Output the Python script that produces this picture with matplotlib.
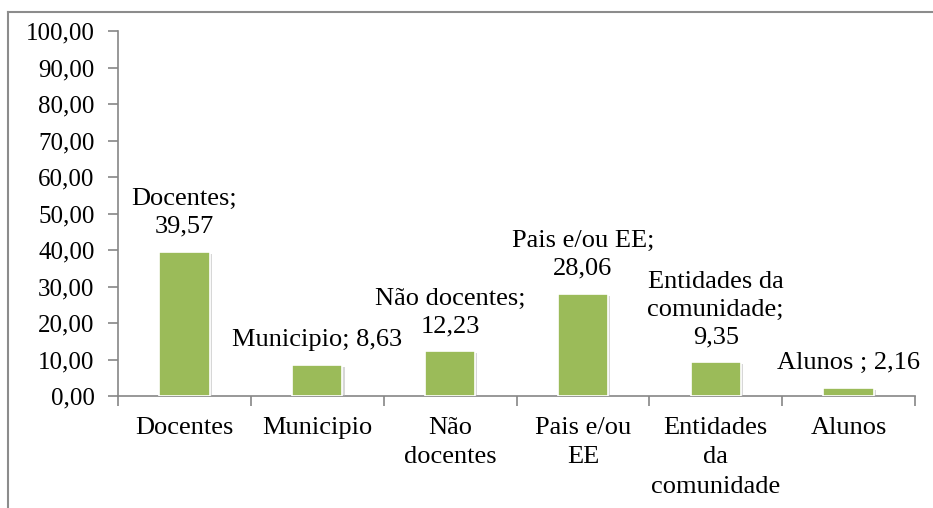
import matplotlib
matplotlib.use("Agg")
import matplotlib.pyplot as plt
from matplotlib.ticker import FuncFormatter, MultipleLocator, FixedLocator
from matplotlib.lines import Line2D
import matplotlib.patheffects as pe

categories = ["Docentes", "Municipio", "Não docentes", "Pais e/ou EE",
              "Entidades da comunidade", "Alunos"]
tick_labels = ["Docentes", "Municipio", "Não\ndocentes", "Pais e/ou\nEE",
               "Entidades\nda\ncomunidade", "Alunos"]
values = [39.57, 8.63, 12.23, 28.06, 9.35, 2.16]
data_labels = ["Docentes;\n39,57", "Municipio; 8,63", "Não docentes;\n12,23",
               "Pais e/ou EE;\n28,06", "Entidades da\ncomunidade;\n9,35",
               "Alunos ; 2,16"]

plt.rcParams['font.family'] = ['Liberation Serif', 'DejaVu Serif']
FS = 19
FS_Y = 18

fig = plt.figure(figsize=(9.33, 5.08), dpi=100)
ax = fig.add_axes([118/933, 1-396/508, (915-118)/933, (396-31)/508])

x = list(range(len(categories)))
bars = ax.bar(x, values, width=0.38, color="#9BBB59", edgecolor="white",
              linewidth=1.2, zorder=3)
for b in bars:
    b.set_path_effects([pe.SimplePatchShadow(offset=(1.5, -1.5), shadow_rgbFace="#b0b0b0", alpha=0.5),
                        pe.Normal()])

ax.set_xlim(-0.5, len(categories) - 0.5)
ax.set_ylim(0, 100)
ax.yaxis.set_major_locator(MultipleLocator(10))
ax.yaxis.set_major_formatter(FuncFormatter(lambda v, p: f"{v:.2f}".replace('.', ',')))

ax.set_xticks(x)
ax.set_xticklabels(tick_labels, fontsize=FS, linespacing=1.45)
ax.tick_params(axis='x', which='major', length=0, pad=15)
ax.xaxis.set_minor_locator(FixedLocator([i - 0.5 for i in range(len(categories) + 1)]))
ax.tick_params(axis='x', which='minor', length=7, width=1.2, color="#868686", direction='out')
ax.tick_params(axis='y', length=7, width=1.2, color="#868686", direction='out',
               labelsize=FS_Y, pad=10)

for s in ['top', 'right']:
    ax.spines[s].set_visible(False)
for s in ['left', 'bottom']:
    ax.spines[s].set_color("#868686")
    ax.spines[s].set_linewidth(1.2)

for xi, v, lab in zip(x, values, data_labels):
    ax.annotate(lab, xy=(xi, v), xytext=(0, 10), textcoords='offset points',
                ha='center', va='bottom', fontsize=FS, linespacing=1.32)

# outer frame (top and left edges visible)
fig.add_artist(Line2D([8/933, 1.0], [1-12/508, 1-12/508], transform=fig.transFigure,
                      color="#8c8c8c", linewidth=1.5))
fig.add_artist(Line2D([8/933, 8/933], [0, 1-12/508], transform=fig.transFigure,
                      color="#8c8c8c", linewidth=1.5))

fig.savefig("out.png", dpi=100)
